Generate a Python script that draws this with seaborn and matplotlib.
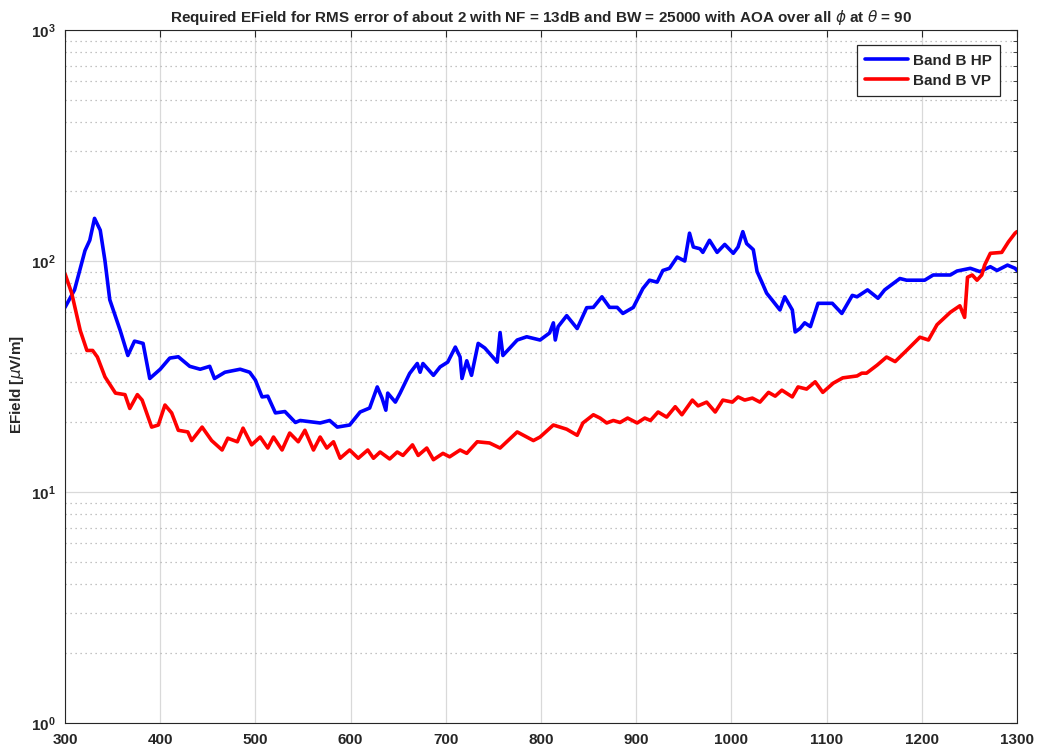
import numpy as np
import pandas as pd
import matplotlib
matplotlib.use('Agg')
import matplotlib.pyplot as plt
from matplotlib.ticker import LogLocator, NullFormatter, FixedLocator
import seaborn as sns

# Band B HP (blue)
hp_freq = [300, 310, 321, 326, 331, 337, 342, 347, 358, 366, 373, 382, 389, 400, 410,
           419, 431, 442, 452, 457, 468, 484, 494, 500, 507, 513, 521, 531, 542, 547,
           568, 578, 586, 599, 610, 620, 628, 633, 637, 639, 647, 652, 662, 670, 673,
           676, 687, 694, 702, 710, 715, 717, 722, 727, 734, 741, 754, 757, 760, 775,
           785, 799, 809, 813, 815, 818, 827, 838, 848, 855, 864, 872, 880, 886, 897,
           907, 914, 922, 928, 935, 943, 951, 956, 960, 967, 970, 977, 985, 993, 1002,
           1007, 1012, 1016, 1023, 1027, 1032, 1037, 1043, 1051, 1056, 1064, 1067, 1072,
           1077, 1083, 1091, 1106, 1116, 1127, 1132, 1143, 1154, 1161, 1177, 1184, 1203,
           1212, 1230, 1237, 1251, 1261, 1272, 1279, 1290, 1298, 1300]
hp_efield = [63, 75, 111, 123, 153, 136, 100, 68, 50, 39, 45, 44, 31, 34, 38,
             38.5, 35, 34, 35, 31, 33, 34, 33, 30.5, 25.8, 26, 22, 22.3, 20, 20.4,
             19.9, 20.4, 19.1, 19.5, 22.2, 23.1, 28.5, 25.5, 22.6, 26.8, 24.5, 26.8, 32.6, 36, 33,
             36, 32, 34.8, 36.5, 42.4, 38.4, 31, 37, 32, 44, 42, 36.5, 49, 39, 45.5,
             47, 45.5, 48.8, 54, 45.5, 52, 58, 51, 62.8, 63, 70, 63, 63, 59.3, 63,
             76, 82.6, 81, 91, 93, 104, 100, 132, 115, 113, 109, 123, 109, 118, 108,
             115, 134, 119, 112, 90, 81, 72.6, 67.6, 61.4, 70, 61.4, 49.3, 51,
             54, 52, 65.6, 65.6, 59.3, 71, 70, 75, 69, 75, 84, 82.6, 82.6,
             87, 87, 90.5, 93, 90, 94.5, 91, 96, 93, 91]

# Band B VP (red)
vp_freq = [300, 307, 316, 323, 329, 334, 342, 353, 363, 368, 376, 381, 391, 398, 405,
           412, 419, 429, 433, 444, 454, 465, 471, 481, 487, 496, 505, 513, 519, 528,
           536, 545, 552, 561, 568, 575, 582, 589, 599, 608, 618, 624, 631, 641, 649,
           655, 665, 671, 680, 687, 697, 704, 715, 722, 733, 746, 757, 775, 792, 799,
           813, 827, 838, 844, 855, 862, 869, 876, 883, 891, 901, 909, 915, 923, 932,
           941, 948, 959, 965, 974, 983, 991, 1001, 1007, 1014, 1022, 1030, 1039, 1046, 1053,
           1064, 1070, 1079, 1088, 1096, 1107, 1117, 1132, 1137, 1142, 1153, 1163, 1172, 1184, 1198,
           1207, 1216, 1230, 1240, 1245, 1248, 1253, 1258, 1263, 1266, 1272, 1284, 1291, 1298, 1300]
vp_efield = [88, 72.6, 50, 41, 41, 38.4, 31.5, 26.8, 26.4, 23, 26.4, 25, 19.1, 19.5, 23.8,
             22, 18.5, 18.2, 16.7, 19.1, 16.7, 15.2, 17.1, 16.5, 18.9, 16, 17.3, 15.5, 17.3, 15.2,
             18, 16.5, 18.5, 15.2, 17.3, 15.5, 16.5, 14.0, 15.2, 14, 15.2, 14, 14.9, 13.9, 14.9,
             14.4, 16, 14.4, 15.5, 13.8, 14.7, 14.2, 15.2, 14.7, 16.5, 16.3, 15.5, 18.2, 16.7, 17.3,
             19.5, 18.7, 17.6, 19.9, 21.6, 20.9, 19.9, 20.4, 20, 20.9, 19.9, 20.9, 20.4, 22.2, 21.1,
             23.4, 21.6, 25, 23.6, 24.5, 22.2, 25, 24.5, 25.8, 25, 25.5, 24.5, 27, 26, 27.6,
             25.8, 28.5, 27.9, 30, 27, 29.6, 31.2, 31.8, 32.7, 32.7, 35.4, 38.4, 36.7, 41, 46.8,
             45.5, 53, 60, 64, 57, 85, 87, 82.6, 87, 96, 108, 109, 121, 132, 134]

labels = ['Band B HP', 'Band B VP']
colors = ['blue', 'red']
x_ticks = [300, 400, 500, 600, 700, 800, 900, 1000, 1100, 1200, 1300]

df = pd.concat([
    pd.DataFrame({'freq': hp_freq, 'efield': hp_efield, 'band': labels[0]}),
    pd.DataFrame({'freq': vp_freq, 'efield': vp_efield, 'band': labels[1]}),
], ignore_index=True)

sns.set_style('white')
plt.rcParams['font.family'] = ['Liberation Sans', 'DejaVu Sans']
plt.rcParams['mathtext.fontset'] = 'dejavusans'

fig = plt.figure(figsize=(10.37, 7.51), dpi=100)
ax = fig.add_axes([0.0627, 0.0373, 0.918, 0.9227])

sns.lineplot(data=df, x='freq', y='efield', hue='band', palette=dict(zip(labels, colors)),
             estimator=None, sort=False, linewidth=2.6, ax=ax)

ax.set_yscale('log')
ax.set_xlim(300, 1300)
ax.set_ylim(1, 1000)
ax.xaxis.set_major_locator(FixedLocator(x_ticks))
ax.yaxis.set_major_locator(LogLocator(base=10, numticks=10))
ax.yaxis.set_minor_locator(LogLocator(base=10, subs=np.arange(2, 10), numticks=20))
ax.yaxis.set_minor_formatter(NullFormatter())

# matlab style grid
ax.grid(True, which='major', color='#d9d9d9', linewidth=0.9, linestyle='-')
ax.grid(True, which='minor', axis='y', color='#b0b0b0', linewidth=0.9, linestyle=(0, (1, 3)))
ax.set_axisbelow(True)

ax.tick_params(which='both', direction='in', top=True, right=True, colors='#262626')
ax.tick_params(which='major', length=5, labelsize=11, pad=7)
ax.tick_params(which='minor', length=3)
for lbl in ax.get_xticklabels() + ax.get_yticklabels():
    lbl.set_fontweight('bold')
for sp in ax.spines.values():
    sp.set_color('#262626')
    sp.set_linewidth(0.8)

ax.set_xlabel('')
ax.set_ylabel(r'EField [$\mu$V/m]', fontsize=11, fontweight='bold')
ax.yaxis.set_label_coords(-0.041, 0.489)
ax.set_title(r'Required EField for RMS error of about 2 with NF = 13dB and BW = 25000 with AOA over all $\phi$ at $\theta$ = 90',
             fontsize=11, fontweight='bold', pad=6)

leg = ax.legend(title=None, loc='upper right', bbox_to_anchor=(0.982, 0.978), borderaxespad=0,
                fancybox=False, framealpha=1, edgecolor='#262626', handlelength=2.8,
                handletextpad=0.3, labelspacing=0.4, borderpad=0.55,
                prop={'weight': 'bold', 'size': 11})
leg.get_frame().set_linewidth(0.9)

plt.savefig('out.png', dpi=100)
